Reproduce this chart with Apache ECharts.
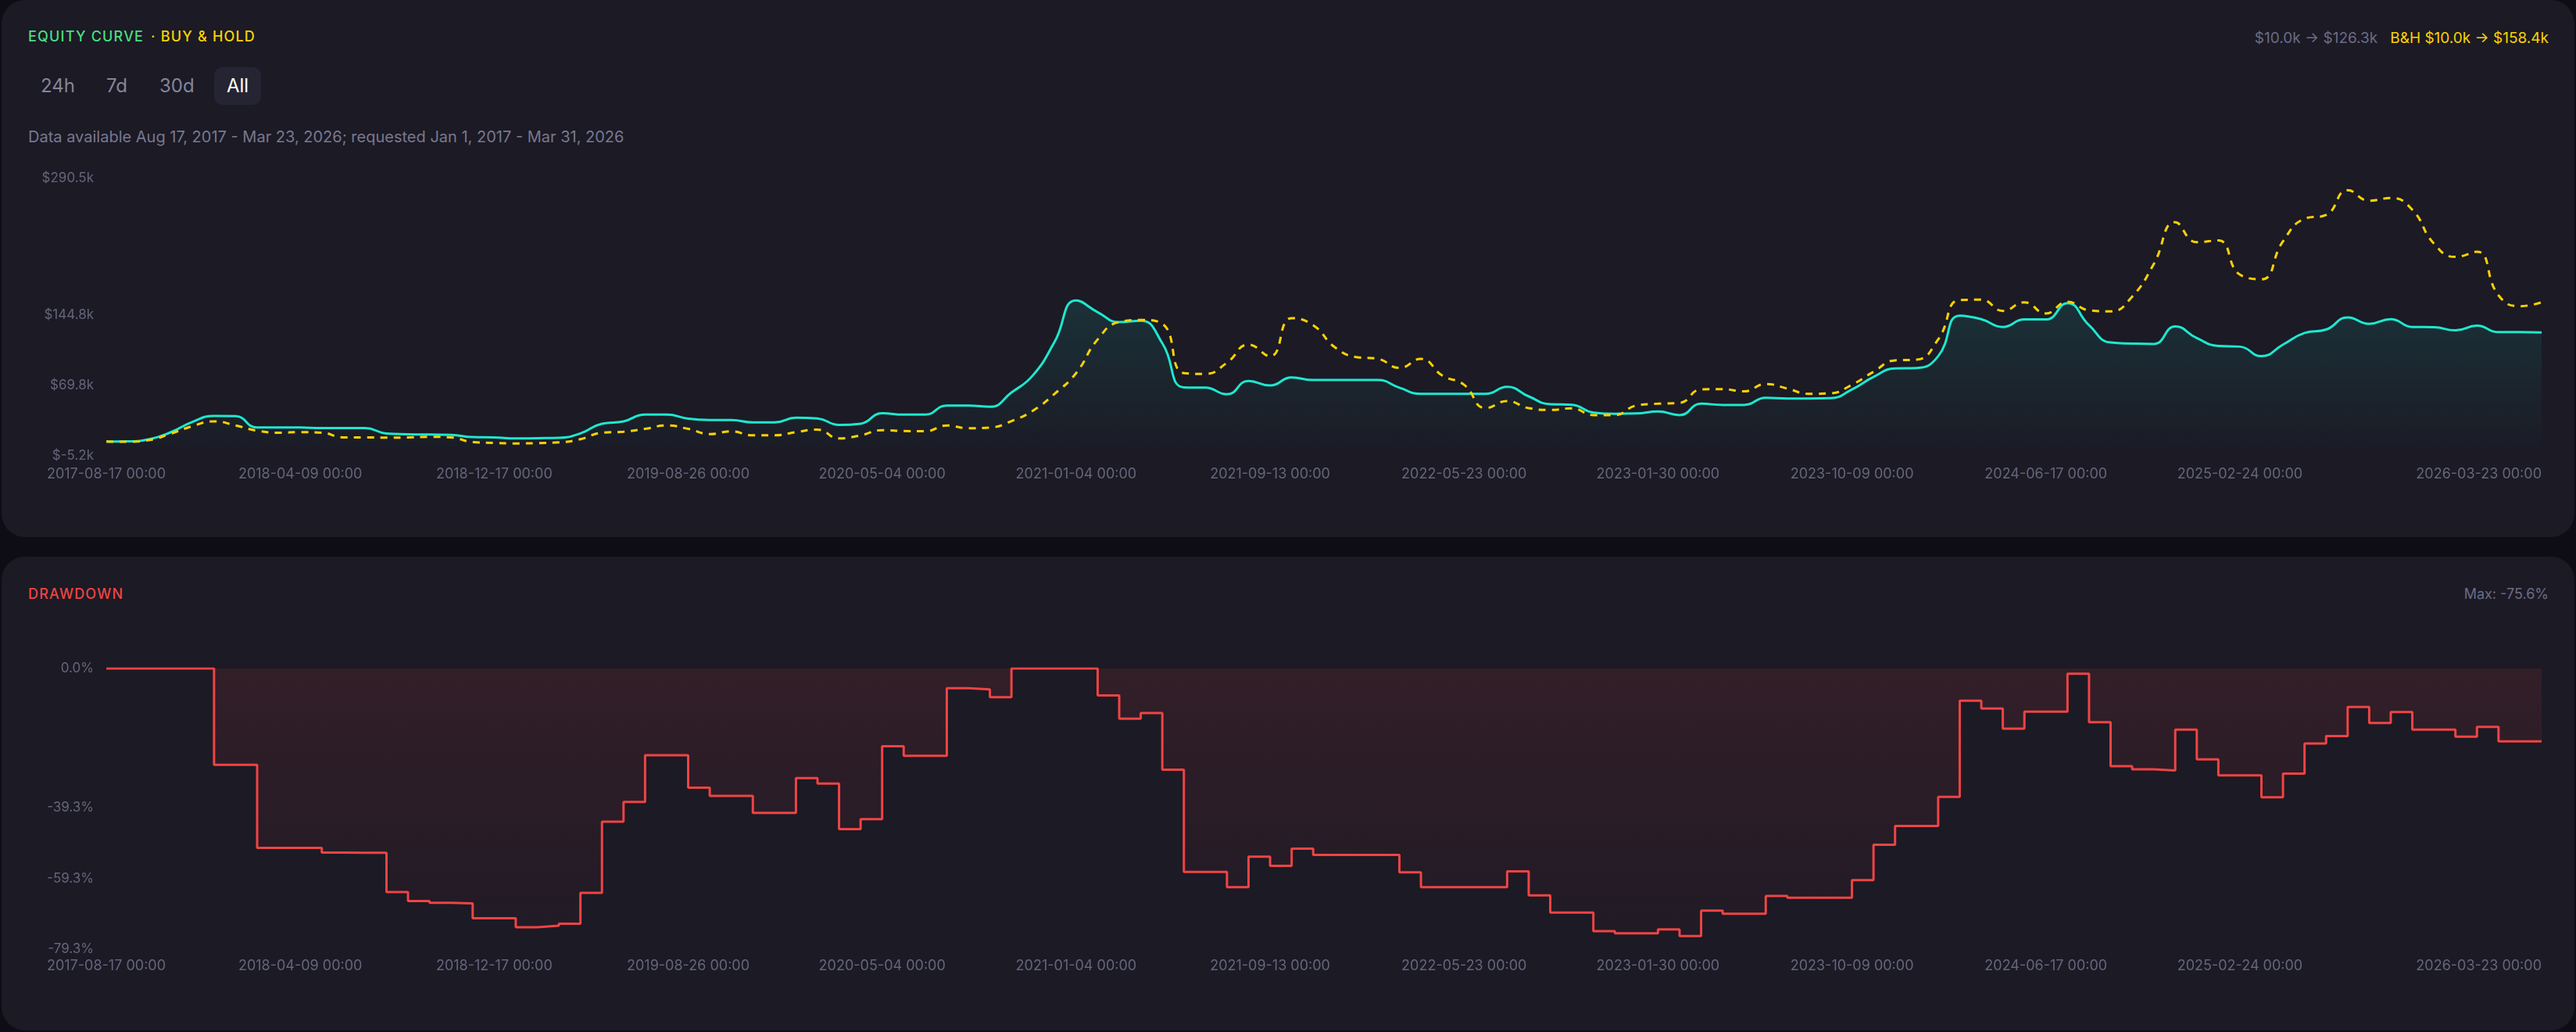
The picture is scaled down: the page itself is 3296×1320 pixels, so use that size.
<!DOCTYPE html>
<html>
<head>
<meta charset="utf-8">
<script src="https://cdn.jsdelivr.net/npm/echarts@6/dist/echarts.min.js"></script>
<style>
html,body{margin:0;padding:0;background:#0e0d16;width:3296px;height:1320px;overflow:hidden;font-family:Inter,"Noto Sans",sans-serif;}
.panel{position:absolute;left:2px;width:3292px;background:#1b1a25;border-radius:30px;}
#p1{top:0;height:687px;}
#p2{top:712px;height:606px;}
.t{position:absolute;white-space:nowrap;line-height:1;transform:translateY(-50%);}
.r{transform:translate(-100%,-50%);}
.cap{font-size:18px;letter-spacing:1.2px;font-weight:500;}
.btn{font-size:24px;color:#85859a;}
#allbox{position:absolute;left:274px;top:86px;width:60px;height:48px;border-radius:10px;background:#252433;}
#chart{position:absolute;left:0;top:0;width:3296px;height:1320px;}
</style>
</head>
<body>
<div class="panel" id="p1"></div>
<div class="panel" id="p2"></div>

<div class="t cap" style="left:36px;top:47px;color:#4ade80;">EQUITY CURVE</div>
<div class="t cap" style="left:193px;top:47px;color:#fcd200;">· BUY &amp; HOLD</div>
<div class="t" style="left:3261px;top:48px;font-size:19px;" id="hdrRight"></div>

<div id="allbox"></div>
<div class="t btn" style="left:52px;top:110px;">24h</div>
<div class="t btn" style="left:136px;top:110px;">7d</div>
<div class="t btn" style="left:204px;top:110px;">30d</div>
<div class="t btn" style="left:290px;top:110px;color:#ffffff;">All</div>

<div class="t" style="left:36px;top:175px;font-size:20px;color:#78788f;">Data available Aug 17, 2017 - Mar 23, 2026; requested Jan 1, 2017 - Mar 31, 2026</div>

<div class="t cap" style="left:36px;top:760px;color:#ef4444;">DRAWDOWN</div>
<div class="t r" style="left:3261px;top:760px;font-size:18px;color:#6c6c85;" id="ddMax"></div>

<div id="chart"></div>

<script>
// ---- data ----
const dates = [
  '2017-08-17','2017-08-28','2017-09-25','2017-10-23','2017-11-20','2017-12-18','2018-01-15','2018-02-12','2018-03-12','2018-04-09',
  '2018-05-07','2018-06-04','2018-07-02','2018-07-30','2018-08-27','2018-09-24','2018-10-22','2018-11-19','2018-12-17','2019-01-14',
  '2019-02-11','2019-03-11','2019-04-08','2019-05-06','2019-06-03','2019-07-01','2019-07-29','2019-08-26','2019-09-23','2019-10-21',
  '2019-11-18','2019-12-16','2020-01-13','2020-02-10','2020-03-09','2020-04-06','2020-05-04','2020-06-01','2020-06-29','2020-07-27',
  '2020-08-24','2020-09-21','2020-10-19','2020-11-16','2020-12-14','2021-01-04','2021-02-01','2021-03-01','2021-03-29','2021-04-26',
  '2021-05-24','2021-06-21','2021-07-19','2021-08-16','2021-09-13','2021-10-11','2021-11-08','2021-12-06','2022-01-03','2022-01-31',
  '2022-02-28','2022-03-28','2022-04-25','2022-05-23','2022-06-20','2022-07-18','2022-08-15','2022-09-12','2022-10-10','2022-11-07',
  '2022-12-05','2023-01-02','2023-01-30','2023-02-27','2023-03-27','2023-04-24','2023-05-22','2023-06-19','2023-07-17','2023-08-14',
  '2023-09-11','2023-10-09','2023-11-06','2023-12-04','2024-01-01','2024-01-29','2024-02-26','2024-03-25','2024-04-22','2024-05-20',
  '2024-06-17','2024-07-15','2024-08-12','2024-09-09','2024-10-07','2024-11-04','2024-12-02','2024-12-30','2025-01-27','2025-02-24',
  '2025-03-24','2025-04-21','2025-05-19','2025-06-16','2025-07-14','2025-08-11','2025-09-08','2025-10-06','2025-11-03','2025-12-01',
  '2025-12-29','2026-01-26','2026-02-23','2026-03-23'
];

const xTickLabels = ['2017-08-17','2018-04-09','2018-12-17','2019-08-26','2020-05-04','2021-01-04','2021-09-13',
  '2022-05-23','2023-01-30','2023-10-09','2024-06-17','2025-02-24','2026-03-23'];

// equity in $k
const equity = [
  10.0, 10.2, 12.5, 20.0, 31.0, 37.3, 37.0, 24.9, 24.9, 24.9,
  24.4, 24.4, 24.4, 18.6, 17.7, 17.4, 17.1, 14.7, 14.4, 13.3,
  13.6, 13.9, 18.6, 29.0, 31.5, 38.7, 38.7, 34.3, 32.9, 32.9,
  30.4, 30.4, 35.4, 34.6, 27.7, 29.0, 40.1, 38.7, 38.7, 48.4,
  48.4, 47.0, 62.2, 80.7, 116.1, 160.3, 147.8, 137.3, 138.7, 114.7,
  67.7, 67.4, 60.3, 74.6, 69.7, 78.2, 75.5, 75.5, 75.5, 75.5,
  67.4, 60.8, 60.8, 60.8, 60.8, 68.3, 58.1, 49.8, 49.2, 40.9,
  39.6, 39.9, 42.0, 38.2, 50.3, 49.0, 49.0, 56.7, 55.9, 55.9,
  56.2, 65.5, 78.8, 87.9, 88.4, 100.9, 144.2, 140.4, 132.1, 140.1,
  140.1, 157.5, 134.0, 115.5, 114.4, 113.9, 132.6, 120.2, 111.9, 111.1,
  100.9, 113.3, 125.7, 129.3, 142.3, 135.4, 140.4, 132.1, 131.8, 128.5,
  133.4, 126.6, 126.6, 126.3
];

// buy & hold in $k
const buyHold = [
  10.0, 9.8, 11.6, 18.5, 26.4, 31.5, 27.1, 21.6, 19.4, 20.0,
  19.4, 14.4, 14.4, 14.1, 14.4, 15.0, 14.4, 9.4, 8.6, 8.0,
  8.3, 9.1, 12.5, 19.4, 20.5, 23.5, 27.1, 23.5, 18.0, 20.8,
  16.6, 16.6, 20.0, 22.7, 13.3, 16.6, 22.1, 21.3, 21.0, 27.1,
  24.1, 24.9, 31.8, 42.9, 60.8, 82.9, 118.8, 137.3, 139.5, 135.4,
  82.9, 82.1, 94.0, 113.3, 100.9, 141.5, 134.0, 110.6, 100.0, 98.1,
  88.4, 98.1, 80.2, 70.5, 45.6, 53.1, 45.6, 43.7, 45.4, 38.2,
  38.2, 48.4, 50.3, 51.1, 65.5, 65.8, 63.5, 71.3, 66.4, 60.8,
  61.4, 70.5, 84.3, 96.5, 97.3, 118.8, 160.8, 161.1, 149.2, 158.3,
  146.5, 158.8, 149.8, 148.7, 164.4, 198.9, 243.7, 222.4, 224.3, 187.9,
  182.9, 223.3, 247.3, 251.4, 277.7, 266.6, 269.4, 256.9, 221.0, 206.7,
  212.2, 165.8, 154.2, 158.4
];

// drawdown in %
const drawdown = [
  0, 0, 0, 0, 0, -27.2, -27.2, -50.7, -50.7, -50.7,
  -52.0, -52.1, -52.1, -63.2, -65.7, -66.2, -66.4, -70.6, -70.6, -73.1,
  -72.7, -72.1, -63.4, -43.3, -37.7, -24.5, -24.5, -33.7, -36.0, -36.0,
  -40.8, -40.8, -31.0, -32.5, -45.4, -42.6, -22.0, -24.7, -24.7, -5.6,
  -5.9, -8.1, 0, 0, 0, 0, -7.6, -14.2, -12.6, -28.6,
  -57.5, -57.5, -61.8, -53.2, -55.8, -50.9, -52.7, -52.7, -52.7, -52.7,
  -57.6, -61.8, -61.8, -61.8, -61.8, -57.3, -64.1, -69.0, -69.0, -74.2,
  -74.8, -74.8, -73.7, -75.6, -68.4, -69.3, -69.3, -64.3, -64.8, -64.8,
  -64.8, -59.8, -49.8, -44.5, -44.5, -36.3, -9.1, -11.3, -17.0, -12.2,
  -12.2, -1.5, -15.2, -27.6, -28.5, -28.8, -17.3, -25.7, -30.2, -30.2,
  -36.4, -29.7, -21.2, -19.1, -10.9, -15.4, -12.3, -17.3, -17.3, -19.3,
  -16.5, -20.6, -20.6, -20.6
];

const equityTicks = [-5.2, 69.8, 144.8, 290.5];
const drawdownTicks = [-79.3, -59.3, -39.3, 0];
const startCapital = 10.0, endEquity = 126.3, endBuyHold = 158.4, maxDrawdown = -75.6;

// ---- header texts ----
document.getElementById('hdrRight').style.transform = 'translate(-100%,-50%)';
document.getElementById('hdrRight').innerHTML =
  '<span style="color:#6c6c85">$' + startCapital.toFixed(1) + 'k \u2192 $' + endEquity.toFixed(1) + 'k</span>' +
  '<span style="color:#fcd200;margin-left:16px">B&amp;H $' + startCapital.toFixed(1) + 'k \u2192 $' + endBuyHold.toFixed(1) + 'k</span>';
document.getElementById('ddMax').textContent = 'Max: ' + maxDrawdown.toFixed(1) + '%';

// ---- chart ----
const TEAL = '#1ee8cf', GOLD = '#fcd200', RED = '#ef4444';
const labelColor = '#65657a';
const font = 'Inter, "Noto Sans", sans-serif';

function xAxisFor(gridIndex, margin) {
  return {
    type: 'category', gridIndex: gridIndex, data: dates, boundaryGap: false,
    axisLine: {show: false}, axisTick: {show: false}, splitLine: {show: false},
    axisLabel: {
      color: labelColor, fontSize: 18, fontFamily: font, margin: margin,
      interval: function (i, v) { return xTickLabels.indexOf(v) >= 0; },
      formatter: function (v) { return v + ' 00:00'; },
      alignMaxLabel: 'right'
    }
  };
}

const chart = echarts.init(document.getElementById('chart'), null, {renderer: 'canvas'});
chart.setOption({
  animation: false,
  backgroundColor: 'transparent',
  grid: [
    {left: 136, right: 44, top: 228, bottom: 737},
    {left: 136, right: 44, top: 855, bottom: 106}
  ],
  xAxis: [xAxisFor(0, 15), xAxisFor(1, 13)],
  yAxis: [
    {
      type: 'value', gridIndex: 0, min: equityTicks[0], max: equityTicks[equityTicks.length - 1],
      axisLine: {show: false}, axisTick: {show: false}, splitLine: {show: false},
      axisLabel: {
        color: labelColor, fontSize: 17, fontFamily: font, margin: 16,
        customValues: equityTicks,
        formatter: function (v) { return '$' + v.toFixed(1) + 'k'; }
      }
    },
    {
      type: 'value', gridIndex: 1, min: drawdownTicks[0], max: drawdownTicks[drawdownTicks.length - 1],
      axisLine: {show: false}, axisTick: {show: false}, splitLine: {show: false},
      axisLabel: {
        color: labelColor, fontSize: 17, fontFamily: font, margin: 16,
        customValues: drawdownTicks,
        formatter: function (v) { return v.toFixed(1) + '%'; }
      }
    }
  ],
  series: [
    {
      name: 'Equity', type: 'line', xAxisIndex: 0, yAxisIndex: 0, data: equity,
      smooth: 0.5, showSymbol: false, z: 2,
      lineStyle: {color: TEAL, width: 3},
      areaStyle: {
        color: new echarts.graphic.LinearGradient(0, 0, 0, 1, [
          {offset: 0, color: 'rgba(30,232,207,0.16)'},
          {offset: 1, color: 'rgba(30,232,207,0.01)'}
        ])
      }
    },
    {
      name: 'Buy & Hold', type: 'line', xAxisIndex: 0, yAxisIndex: 0, data: buyHold,
      smooth: 0.5, showSymbol: false, z: 3,
      lineStyle: {color: GOLD, width: 3, type: [9, 8]}
    },
    {
      name: 'Drawdown', type: 'line', xAxisIndex: 1, yAxisIndex: 1, data: drawdown,
      step: 'end', showSymbol: false,
      lineStyle: {color: RED, width: 3},
      areaStyle: {
        color: new echarts.graphic.LinearGradient(0, 0, 0, 1, [
          {offset: 0, color: 'rgba(239,68,68,0.16)'},
          {offset: 1, color: 'rgba(239,68,68,0.04)'}
        ])
      }
    }
  ]
});
</script>
</body>
</html>
